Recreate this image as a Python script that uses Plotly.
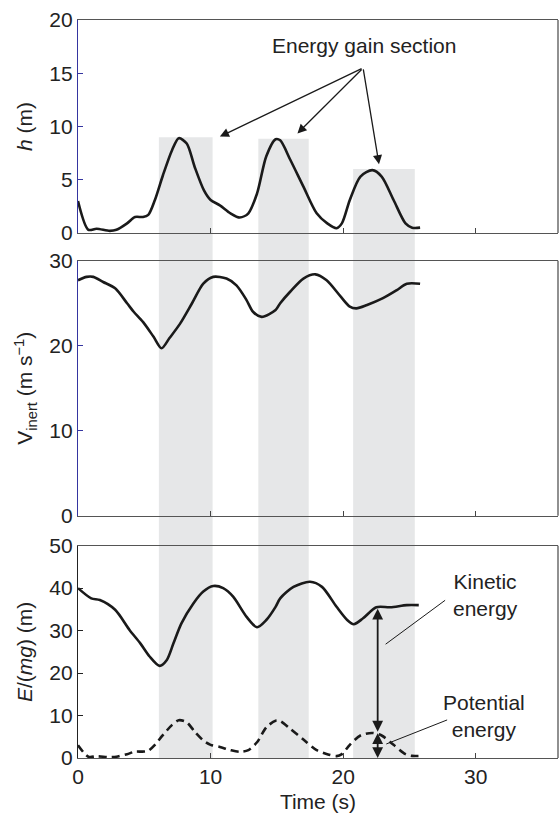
import plotly.graph_objects as go
from plotly.subplots import make_subplots

# ---- data ----
t_h = [0, 0.78, 1.4, 2.4, 2.9, 3.7, 4.3, 4.9, 5.3, 5.8, 6.4, 7.1, 7.6, 8.2, 8.8, 9.5, 10.0, 10.7,
       11.5, 12.2, 12.85, 13.5, 14.2, 14.9, 15.25, 16.0, 17.0, 18.0, 18.8, 19.5, 19.9, 20.5, 21.3,
       22.2, 22.9, 23.8, 24.7, 25.2, 25.8]
h = [3.0, 0.3, 0.4, 0.2, 0.3, 0.9, 1.5, 1.5, 1.7, 3.1, 5.4, 7.8, 8.9, 8.4, 6.2, 4.0, 3.1, 2.6,
     1.85, 1.45, 1.85, 3.7, 7.2, 8.8, 8.7, 6.9, 4.35, 1.85, 0.9, 0.45, 0.9, 3.1, 5.3,
     5.9, 5.3, 3.1, 0.9, 0.5, 0.5]

t_v = [0, 0.65, 1.15, 1.9, 2.8, 3.7, 4.2, 4.9, 5.7, 6.3, 6.9, 7.7, 8.6, 9.45, 10.2, 11.2, 11.95,
       12.7, 13.2, 13.85, 14.9, 15.25, 16.0, 17.0, 17.9, 18.75, 19.8, 20.5, 21.0, 21.8, 23.0,
       24.05, 24.8, 25.8]
v_inert = [27.7, 28.1, 28.1, 27.5, 26.75, 25.0, 24.0, 22.8, 21.05, 19.7, 20.9, 22.6, 25.0, 27.3,
           28.1, 27.9, 27.1, 25.4, 24.0, 23.4, 24.2, 25.0, 26.35, 27.9, 28.4, 27.7, 25.8, 24.6,
           24.4, 24.8, 25.6, 26.55, 27.3, 27.3]

t_e = [0, 1.0, 1.65, 2.8, 3.9, 4.7, 5.4, 6.15, 6.7, 7.2, 7.8, 8.7, 9.45, 10.2, 10.95, 11.7, 12.7,
       13.5, 14.2, 14.9, 15.25, 16.25, 17.5, 18.4, 19.5, 20.3, 20.8, 21.5, 22.5, 23.55, 24.8, 25.7]
e_total = [40.0, 37.6, 37.2, 34.9, 30.1, 27.0, 23.9, 21.7, 23.1, 27.0, 31.7, 36.4, 39.2, 40.5,
           40.0, 38.0, 33.3, 30.8, 32.5, 35.6, 37.6, 40.3, 41.5, 40.3, 35.6, 32.5, 31.5, 32.9,
           35.5, 35.5, 36.0, 36.0]
e_potential = h

# energy gain sections: start, end, height (h panel)
sec_start = [6.1, 13.6, 20.75]
sec_end = [10.15, 17.4, 25.4]
sec_top = [9.0, 8.85, 6.0]

x_ticks = [0, 10, 20, 30]

# ---- figure ----
FONT = "Liberation Sans, Arial, sans-serif"
FS = 21
TXT = "#222"
dom1 = [0.7114, 1.0]
dom2 = [0.3283, 0.6738]
dom3 = [0.0, 0.2877]

fig = make_subplots(rows=3, cols=1, shared_xaxes=False)
line = dict(color="#1a1a1a", width=2.6, shape="spline", smoothing=0.8)
fig.add_trace(go.Scatter(x=t_h, y=h, mode="lines", line=line, showlegend=False), row=1, col=1)
fig.add_trace(go.Scatter(x=t_v, y=v_inert, mode="lines", line=line, showlegend=False), row=2, col=1)
fig.add_trace(go.Scatter(x=t_e, y=e_total, mode="lines", line=line, showlegend=False), row=3, col=1)
fig.add_trace(go.Scatter(x=t_h, y=e_potential, mode="lines",
                         line=dict(color="#1a1a1a", width=2.6, dash="8px,5px", shape="spline", smoothing=0.8),
                         showlegend=False), row=3, col=1)

shade = "#e6e7e8"
for s, e, top in zip(sec_start, sec_end, sec_top):
    fig.add_shape(type="rect", xref="x", yref="y", x0=s, x1=e, y0=0, y1=top,
                  fillcolor=shade, line_width=0, layer="below")
    fig.add_shape(type="rect", xref="x", yref="paper", x0=s, x1=e, y0=dom3[0], y1=dom1[0],
                  fillcolor=shade, line_width=0, layer="below")

axis_common = dict(range=[0, 36.2], tickvals=x_ticks, ticks="inside", ticklen=5, tickcolor="#444",
                   showline=True, linecolor="#555", linewidth=1.3, mirror=True, showgrid=False,
                   zeroline=False, automargin=False, tickfont=dict(family=FONT, size=FS, color=TXT))
fig.update_xaxes(**axis_common)
fig.update_xaxes(showticklabels=False, row=1, col=1)
fig.update_xaxes(showticklabels=False, row=2, col=1)
fig.update_xaxes(title=dict(text="Time (s)", font=dict(family=FONT, size=FS, color=TXT), standoff=6),
                 row=3, col=1)

ycommon = dict(ticks="inside", ticklen=5, showline=True, linewidth=1.3, mirror=False,
               showgrid=False, zeroline=False, automargin=False,
               tickfont=dict(family=FONT, size=FS, color=TXT))
fig.update_layout(
    yaxis=dict(domain=dom1, range=[0, 20], tickvals=[0, 5, 10, 15, 20], linecolor="#3535a0",
               tickcolor="#3535a0",
               title=dict(text="<i>h</i> (m)", font=dict(family=FONT, size=FS, color=TXT), standoff=10),
               **ycommon),
    yaxis2=dict(domain=dom2, range=[0, 30], tickvals=[0, 10, 20, 30], linecolor="#3535a0",
                tickcolor="#3535a0",
                title=dict(text="V<sub>inert</sub> (m s<sup>−1</sup>)", font=dict(family=FONT, size=FS, color=TXT), standoff=10),
                **ycommon),
    yaxis3=dict(domain=dom3, range=[0, 50], tickvals=[0, 10, 20, 30, 40, 50], linecolor="#222",
                tickcolor="#222",
                title=dict(text="<i>E</i>/(<i>mg</i>) (m)", font=dict(family=FONT, size=FS, color=TXT), standoff=10),
                **ycommon),
)
# right box lines
for yr in ["y domain", "y2 domain", "y3 domain"]:
    fig.add_shape(type="line", xref="x domain", yref=yr, x0=1, x1=1, y0=0, y1=1,
                  line=dict(color="#555", width=1.3))

# annotations
tail_x, tail_y = 21.5, 15.5
heads = [(10.7, 9.05), (16.55, 9.35), (22.7, 6.45)]
for hx, hy in heads:
    fig.add_annotation(x=hx, y=hy, ax=tail_x, ay=tail_y, xref="x", yref="y", axref="x", ayref="y",
                       text="", showarrow=True, arrowhead=2, arrowsize=1.4, arrowwidth=1.3,
                       arrowcolor="#1a1a1a", standoff=0)
fig.add_annotation(x=21.6, y=17.6, xref="x", yref="y", text="Energy gain section", showarrow=False,
                   font=dict(family=FONT, size=FS, color=TXT))

# energy double arrows
arrow_t = 22.6
fig.add_annotation(x=arrow_t, y=6.2, ax=arrow_t, ay=35.5, xref="x3", yref="y3", axref="x3", ayref="y3",
                   text="", showarrow=True, arrowhead=2, startarrowhead=2, arrowside="end+start",
                   arrowsize=1.2, startarrowsize=1.2, arrowwidth=1.8, arrowcolor="#1a1a1a",
                   standoff=0, startstandoff=0)
fig.add_annotation(x=arrow_t, y=0.0, ax=arrow_t, ay=6.2, xref="x3", yref="y3", axref="x3", ayref="y3",
                   text="", showarrow=True, arrowhead=2, startarrowhead=2, arrowside="end+start",
                   arrowsize=1.2, startarrowsize=1.2, arrowwidth=1.8, arrowcolor="#1a1a1a",
                   standoff=0, startstandoff=0)
# pointer lines
fig.add_annotation(x=23.2, y=26.8, ax=27.8, ay=37.4, xref="x3", yref="y3", axref="x3", ayref="y3",
                   text="", showarrow=True, arrowhead=0, arrowwidth=1, arrowcolor="#1a1a1a")
fig.add_annotation(x=23.25, y=3.3, ax=27.95, ay=9.1, xref="x3", yref="y3", axref="x3", ayref="y3",
                   text="", showarrow=True, arrowhead=0, arrowwidth=1, arrowcolor="#1a1a1a")
fig.add_annotation(x=30.7, y=38.4, xref="x3", yref="y3", text="Kinetic<br>energy", showarrow=False,
                   font=dict(family=FONT, size=FS, color=TXT), align="center")
fig.add_annotation(x=30.6, y=9.9, xref="x3", yref="y3", text="Potential<br>energy", showarrow=False,
                   font=dict(family=FONT, size=FS, color=TXT), align="center")

fig.update_layout(width=559, height=814, margin=dict(l=78, r=1, t=20, b=56),
                  paper_bgcolor="white", plot_bgcolor="rgba(0,0,0,0)",
                  font=dict(family=FONT, size=FS, color=TXT))

fig.write_html("out.html", config={"displayModeBar": False},
               post_script="document.body.style.margin='0px';document.body.style.overflow='hidden';")
